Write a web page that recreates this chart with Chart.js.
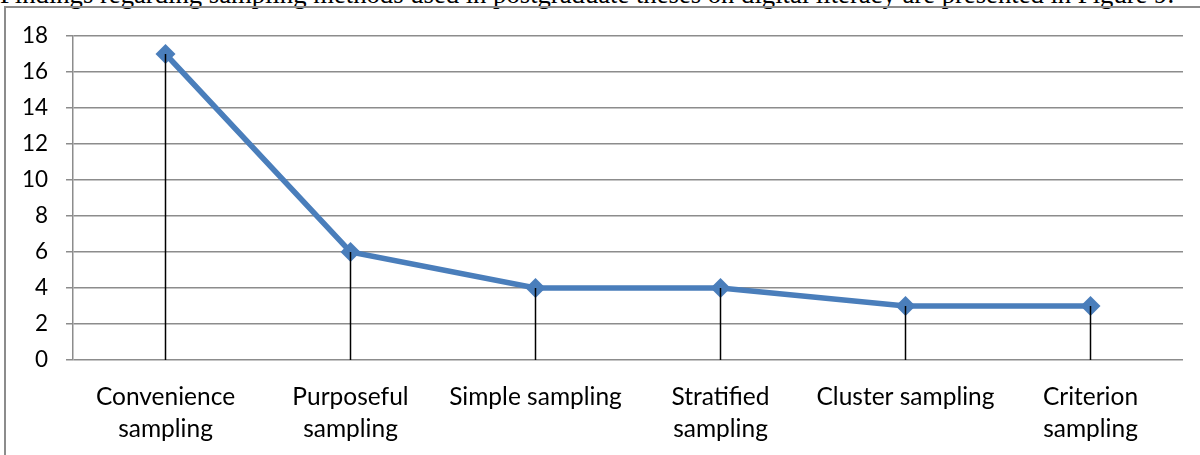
<!DOCTYPE html>
<html>
<head>
<meta charset="utf-8">
<script src="https://cdn.jsdelivr.net/npm/chart.js@4.4.1/dist/chart.umd.min.js"></script>
<style>
  html, body { margin: 0; padding: 0; background: #fff; overflow: hidden; }
  body { width: 1200px; height: 455px; position: relative; }
  #lead {
    position: absolute; left: 0; top: -16px;
    font-family: "Liberation Serif", "Times New Roman", serif;
    font-size: 24px; line-height: 1; color: #000;
    white-space: nowrap;
  }
  #frame {
    position: absolute; left: 4px; top: 6px; width: 1400px; height: 600px;
    border-left: 2px solid #8c8c8c; border-top: 2px solid #8c8c8c;
  }
  #wrap { position: absolute; left: 0; top: 0; width: 1200px; height: 455px; }
</style>
</head>
<body>
<div id="lead">Findings regarding sampling methods used in postgraduate theses on digital literacy are presented in Figure 9.</div>
<div id="frame"></div>
<div id="wrap"><canvas id="c" width="1200" height="455"></canvas></div>
<script>
// Sampling methods and the number of theses using each
const categories = [
  ["Convenience", "sampling"],
  ["Purposeful", "sampling"],
  "Simple sampling",
  ["Stratified", "sampling"],
  "Cluster sampling",
  ["Criterion", "sampling"]
];
const thesisCounts = [17, 6, 4, 4, 3, 3];
const yTicks = [0, 2, 4, 6, 8, 10, 12, 14, 16, 18];

// size the lead sentence so it spans the page width, baseline just below the top edge
(function () {
  const el = document.getElementById('lead');
  const target = 1175;
  const w = el.getBoundingClientRect().width;
  const size = 24 * target / w;
  el.style.fontSize = size + 'px';
  el.style.top = (3.5 - 0.8375 * size) + 'px';
})();

const xFont = { family: "Lato, 'Open Sans', sans-serif", size: 24.5, lineHeight: 1.3 };
const yFont = { family: "Lato, 'Open Sans', sans-serif", size: 22.5 };

// vertical drop lines from each point down to the category axis
const dropLines = {
  id: 'dropLines',
  afterDatasetsDraw(chart) {
    const { ctx, scales: { y } } = chart;
    const meta = chart.getDatasetMeta(0);
    ctx.save();
    ctx.strokeStyle = '#000';
    ctx.lineWidth = 1.5;
    meta.data.forEach(pt => {
      ctx.beginPath();
      ctx.moveTo(pt.x, pt.y);
      ctx.lineTo(pt.x, y.getPixelForValue(0));
      ctx.stroke();
    });
    ctx.restore();
  }
};

new Chart(document.getElementById('c'), {
  type: 'line',
  data: {
    labels: categories,
    datasets: [{
      data: thesisCounts,
      borderColor: '#4A7EBB',
      backgroundColor: '#4A7EBB',
      borderWidth: 5.5,
      tension: 0,
      pointStyle: 'rectRot',
      pointRadius: 10,
      pointBorderWidth: 0,
      pointBackgroundColor: '#4A7EBB'
    }]
  },
  options: {
    responsive: false,
    animation: false,
    layout: { padding: { left: 0, right: 17, top: 36, bottom: 0 } },
    plugins: { legend: { display: false }, tooltip: { enabled: false }, title: { display: false } },
    scales: {
      x: {
        offset: true,
        grid: { display: false, drawTicks: false },
        border: { display: false },
        ticks: { font: xFont, color: '#000', padding: 21, maxRotation: 0, autoSkip: false },
        afterFit: s => { s.height = 95; }
      },
      y: {
        min: 0, max: 18,
        afterBuildTicks: s => { s.ticks = yTicks.map(v => ({ value: v })); },
        grid: { color: '#8c8c8c', lineWidth: 1.5, tickLength: 7 },
        border: { color: '#8c8c8c', width: 1.5 },
        ticks: { font: yFont, color: '#000', padding: 18 },
        afterFit: s => { s.width = 73; }
      }
    }
  },
  plugins: [dropLines]
});
</script>
</body>
</html>
